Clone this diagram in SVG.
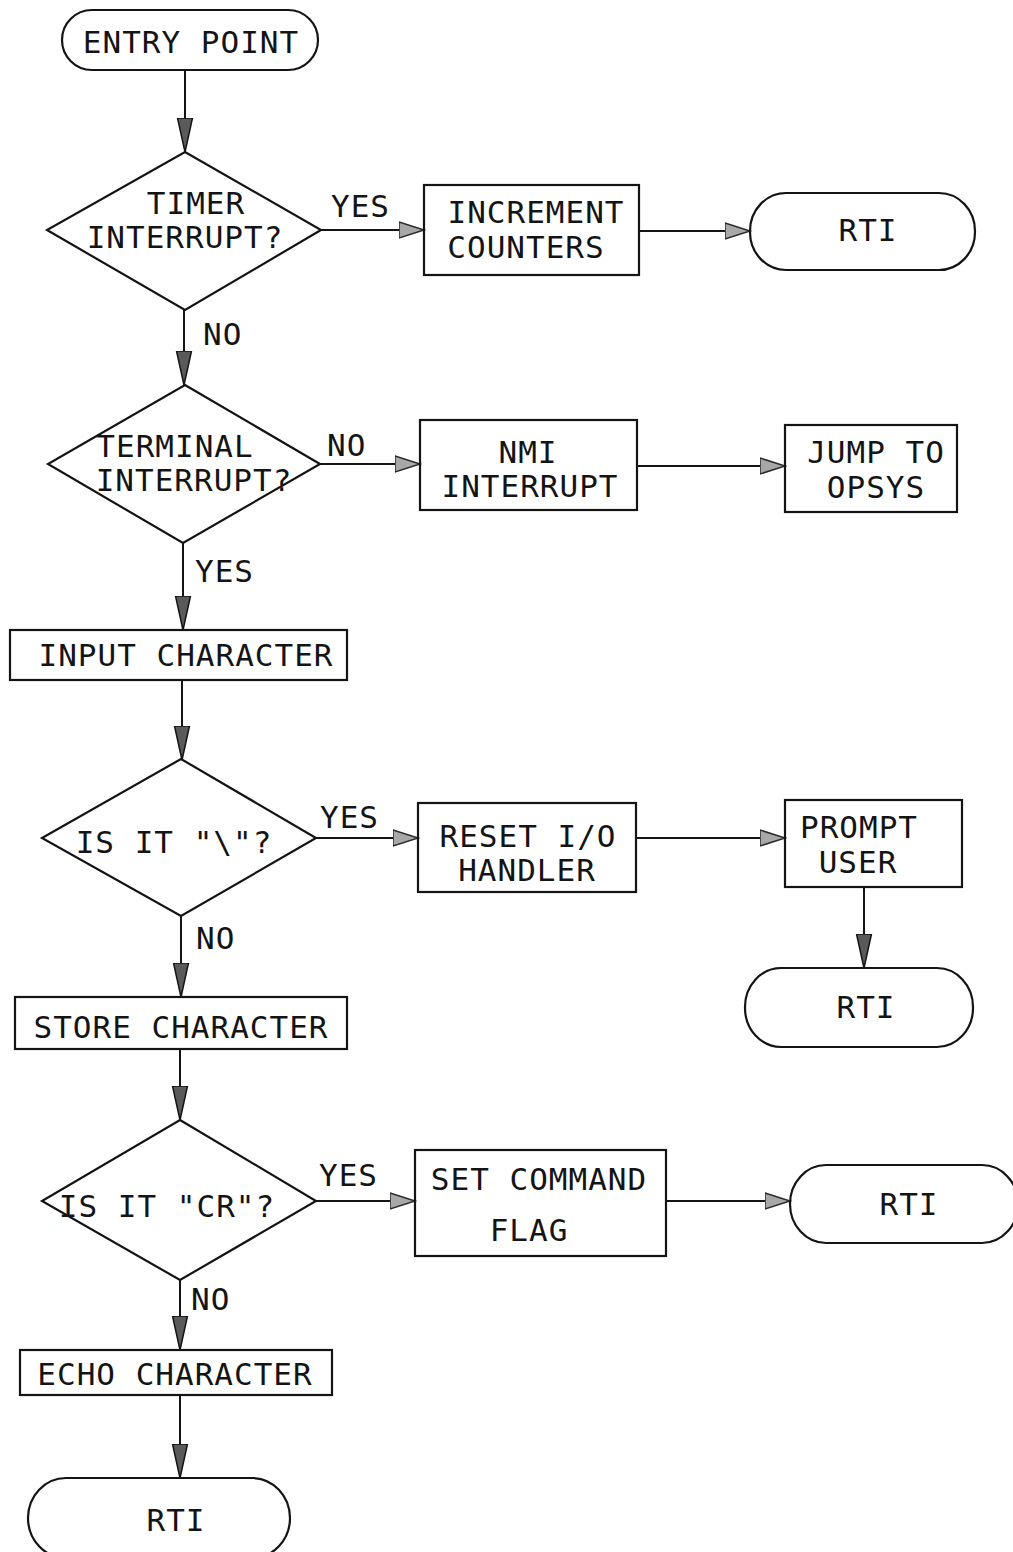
<svg xmlns="http://www.w3.org/2000/svg" width="1013" height="1552" viewBox="0 0 1013 1552">
  <style>
    .shape { fill: none; stroke: #141414; stroke-width: 2.2; }
    .link { fill: none; stroke: #141414; stroke-width: 2; }
    text { font-family: "DejaVu Sans Mono", "Liberation Mono", monospace; font-size: 31px; letter-spacing: 1px; fill: #141414; text-anchor: middle; }
    .lbl { text-anchor: start; }
  </style>
  <defs>
    <!-- long dark head used on the vertical flow -->
    <marker id="headDown" markerUnits="userSpaceOnUse" markerWidth="40" markerHeight="20" viewBox="0 -10 40 20" refX="34" refY="0" orient="auto">
      <path d="M0,-7.5 L34,0 L0,7.5 Z" fill="#5a5a5a" stroke="#141414" stroke-width="1.5"/>
    </marker>
    <!-- short light head used on the side branches -->
    <marker id="headSide" markerUnits="userSpaceOnUse" markerWidth="30" markerHeight="20" viewBox="0 -10 30 20" refX="25" refY="0" orient="auto">
      <path d="M0,-8 L25,0 L0,8 Z" fill="#a8a8a8" stroke="#2a2a2a" stroke-width="1.5"/>
    </marker>
  </defs>

  <g id="connectors">
    <line class="link" x1="185" y1="70" x2="185" y2="152" marker-end="url(#headDown)"/>
    <line class="link" x1="321" y1="230" x2="424" y2="230" marker-end="url(#headSide)"/>
    <line class="link" x1="639" y1="231" x2="750" y2="231" marker-end="url(#headSide)"/>
    <line class="link" x1="184" y1="310" x2="184" y2="385" marker-end="url(#headDown)"/>
    <line class="link" x1="320" y1="464" x2="420" y2="464" marker-end="url(#headSide)"/>
    <line class="link" x1="637" y1="466" x2="785" y2="466" marker-end="url(#headSide)"/>
    <line class="link" x1="183" y1="543" x2="183" y2="630" marker-end="url(#headDown)"/>
    <line class="link" x1="182" y1="680" x2="182" y2="760" marker-end="url(#headDown)"/>
    <line class="link" x1="316" y1="838" x2="418" y2="838" marker-end="url(#headSide)"/>
    <line class="link" x1="636" y1="838" x2="785" y2="838" marker-end="url(#headSide)"/>
    <line class="link" x1="864" y1="887" x2="864" y2="968" marker-end="url(#headDown)"/>
    <line class="link" x1="181" y1="916" x2="181" y2="997" marker-end="url(#headDown)"/>
    <line class="link" x1="180" y1="1050" x2="180" y2="1120" marker-end="url(#headDown)"/>
    <line class="link" x1="316" y1="1201" x2="415" y2="1201" marker-end="url(#headSide)"/>
    <line class="link" x1="666" y1="1201" x2="790" y2="1201" marker-end="url(#headSide)"/>
    <line class="link" x1="180" y1="1280" x2="180" y2="1350" marker-end="url(#headDown)"/>
    <line class="link" x1="180" y1="1395" x2="180" y2="1478" marker-end="url(#headDown)"/>
    <!-- branch labels -->
    <text class="lbl" x="331" y="217">YES</text>
    <text class="lbl" x="203" y="345">NO</text>
    <text class="lbl" x="327" y="456">NO</text>
    <text class="lbl" x="195" y="582">YES</text>
    <text class="lbl" x="320" y="828">YES</text>
    <text class="lbl" x="196" y="949">NO</text>
    <text class="lbl" x="319" y="1186">YES</text>
    <text class="lbl" x="191" y="1310">NO</text>
  </g>

  <g id="entry">
    <rect class="shape" x="62" y="10" width="256" height="60" rx="30" ry="30"/>
    <text x="191" y="53">ENTRY POINT</text>
  </g>

  <g id="timer-check">
    <polygon class="shape" points="185,152 321,230 185,310 47,230"/>
    <text x="196" y="214">TIMER</text>
    <text x="185" y="248">INTERRUPT?</text>
  </g>

  <g id="increment">
    <rect class="shape" x="424" y="185" width="215" height="90"/>
    <text x="536" y="223">INCREMENT</text>
    <text x="526" y="258">COUNTERS</text>
  </g>

  <g id="rti-timer">
    <rect class="shape" x="750" y="193" width="225" height="77" rx="36" ry="38"/>
    <text x="868" y="241">RTI</text>
  </g>

  <g id="terminal-check">
    <polygon class="shape" points="185,385 320,464 183,543 48,464"/>
    <text x="175" y="457">TERMINAL</text>
    <text x="194" y="491">INTERRUPT?</text>
  </g>

  <g id="nmi">
    <rect class="shape" x="420" y="420" width="217" height="90"/>
    <text x="528" y="463">NMI</text>
    <text x="530" y="497">INTERRUPT</text>
  </g>

  <g id="jump">
    <rect class="shape" x="785" y="425" width="172" height="87"/>
    <text x="876" y="463">JUMP TO</text>
    <text x="876" y="498">OPSYS</text>
  </g>

  <g id="input-char">
    <rect class="shape" x="10" y="630" width="337" height="50"/>
    <text x="186" y="666">INPUT CHARACTER</text>
  </g>

  <g id="backslash-check">
    <polygon class="shape" points="181,759 316,838 181,916 42,838"/>
    <text x="174" y="853">IS IT "\"?</text>
  </g>

  <g id="reset-io">
    <rect class="shape" x="418" y="803" width="218" height="89"/>
    <text x="528" y="847">RESET I/O</text>
    <text x="527" y="881">HANDLER</text>
  </g>

  <g id="prompt">
    <rect class="shape" x="785" y="800" width="177" height="87"/>
    <text x="859" y="838">PROMPT</text>
    <text x="858" y="873">USER</text>
  </g>

  <g id="rti-prompt">
    <rect class="shape" x="745" y="968" width="228" height="79" rx="36" ry="39"/>
    <text x="866" y="1018">RTI</text>
  </g>

  <g id="store-char">
    <rect class="shape" x="15" y="997" width="332" height="52"/>
    <text x="181" y="1038">STORE CHARACTER</text>
  </g>

  <g id="cr-check">
    <polygon class="shape" points="180,1120 316,1201 180,1280 42,1201"/>
    <text x="167" y="1217">IS IT "CR"?</text>
  </g>

  <g id="set-flag">
    <rect class="shape" x="415" y="1150" width="251" height="106"/>
    <text x="539" y="1190">SET COMMAND</text>
    <text x="529" y="1241">FLAG</text>
  </g>

  <g id="rti-command">
    <rect class="shape" x="790" y="1165" width="228" height="78" rx="36" ry="39"/>
    <text x="909" y="1215">RTI</text>
  </g>

  <g id="echo-char">
    <rect class="shape" x="20" y="1350" width="312" height="45"/>
    <text x="175" y="1385">ECHO CHARACTER</text>
  </g>

  <g id="rti-end">
    <rect class="shape" x="28" y="1478" width="262" height="80" rx="38" ry="40"/>
    <text x="176" y="1531">RTI</text>
  </g>
</svg>
